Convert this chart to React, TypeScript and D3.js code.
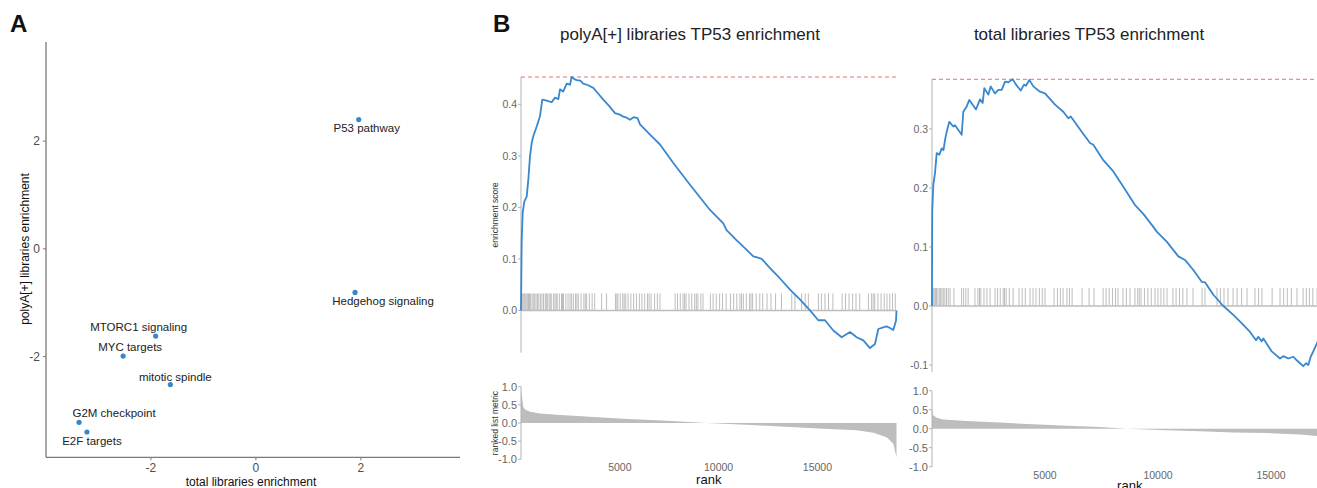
import React from 'react';
import * as d3 from 'd3';

// ---------- Panel A data ----------
const pathways = ['P53 pathway', 'Hedgehog signaling', 'MTORC1 signaling', 'MYC targets', 'mitotic spindle', 'G2M checkpoint', 'E2F targets'];
const totalEnrichment = [1.96, 1.89, -1.91, -2.53, -1.63, -3.37, -3.22];
const polyAEnrichment = [2.40, -0.81, -1.62, -1.99, -2.52, -3.22, -3.40];
const scatterTicks = [-2, 0, 2];
// label placement (layout only, px relative to point)
const labelOffsets: [number, number][] = [[8, 8], [28, 9], [-17, -9], [7, -9], [5, -8], [35, -9], [5, 9]];

// ---------- Panel B data: polyA[+] ----------
const esRanks1 = [0, 35, 86, 167, 288, 369, 455, 541, 622, 794, 961, 1077, 1200, 1381, 1553, 1720, 1890, 1973, 2140, 2312, 2480, 2565, 2700, 2818, 3000, 3152, 3400, 3658, 3900, 4164, 4456, 4756, 5000, 5176, 5350, 5515, 5700, 5900, 6021, 6527, 7033, 7706, 8551, 9563, 10236, 10400, 10914, 11081, 11755, 11950, 12179, 12600, 13105, 13697, 14100, 14623, 15043, 15382, 15802, 16227, 16647, 16986, 17320, 17659, 17912, 18079, 18332, 18500, 18671, 18838, 18975, 19000];
const esValues1 = [0, 0.136, 0.19, 0.211, 0.221, 0.253, 0.299, 0.325, 0.338, 0.357, 0.377, 0.409, 0.408, 0.406, 0.404, 0.413, 0.41, 0.429, 0.425, 0.44, 0.438, 0.453, 0.449, 0.447, 0.446, 0.44, 0.437, 0.432, 0.421, 0.409, 0.397, 0.383, 0.38, 0.376, 0.374, 0.37, 0.375, 0.373, 0.361, 0.341, 0.322, 0.286, 0.244, 0.195, 0.169, 0.156, 0.136, 0.13, 0.105, 0.103, 0.1, 0.082, 0.062, 0.037, 0.022, 0.0, -0.019, -0.019, -0.039, -0.052, -0.042, -0.052, -0.058, -0.073, -0.065, -0.036, -0.033, -0.031, -0.034, -0.038, -0.02, 0];
const hits1 = [20, 60, 110, 160, 210, 260, 320, 380, 430, 490, 560, 620, 690, 760, 830, 900, 980, 1060, 1140,
  1230, 1280, 1330, 1420, 1480, 1530, 1640, 1720, 1780, 1830, 1940, 2050, 2100, 2150, 2270, 2380, 2480, 2560,
  2650, 2760, 2830, 2900, 3040, 3180, 3250, 3320, 3460, 3600, 3730,
  4080, 4330,
  4780, 4850, 4900, 5020, 5150, 5220, 5300, 5420, 5560, 5700, 5840,
  5990, 6120, 6260, 6400, 6480, 6580, 6760, 6900, 7030,
  7800, 7920, 8060, 8200, 8280, 8350, 8500, 8640, 8790, 8870, 8950, 9100, 9210,
  9580, 9720, 9880, 10050, 10200, 10380,
  10600, 10760, 10920, 11080, 11160, 11250, 11400, 11560, 11640, 11720, 11900, 12080, 12230,
  12450, 12650, 12880, 13180,
  13700, 13860,
  14200, 14380, 14540,
  15050, 15200, 15380, 15560, 15780,
  16250, 16420, 16600, 16780, 16950, 17140,
  17580, 17740, 17820, 17900, 18060, 18220, 18380, 18520, 18660, 18800, 18940];
const metricRanks1 = [0, 35, 118, 202, 455, 961, 1805, 3491, 5178, 6864, 8551, 9394, 10237, 11924, 13611, 15297, 16984, 17827, 18502, 18839, 19000];
const metricValues1 = [0.95, 0.8, 0.44, 0.37, 0.31, 0.26, 0.23, 0.17, 0.12, 0.074, 0.03, 0, -0.02, -0.065, -0.11, -0.16, -0.2, -0.27, -0.39, -0.57, -0.95];

// ---------- Panel B data: total ----------
const esRanks2 = [0, 5, 13, 58, 133, 208, 323, 429, 509, 575, 650, 766, 943, 1018, 1314, 1385, 1535, 1651, 1947, 2124, 2243, 2314, 2491, 2597, 2788, 2934, 3084, 3230, 3376, 3571, 3717, 3925, 4071, 4160, 4306, 4483, 4779, 5000, 5443, 5810, 6031, 6137, 6253, 6624, 6992, 7138, 7580, 8023, 8465, 8983, 9350, 9793, 9943, 10386, 10899, 11195, 11563, 11934, 12080, 12448, 12890, 13333, 13775, 14072, 14337, 14439, 14589, 14660, 15032, 15399, 15545, 15767, 15988, 16138, 16284, 16430, 16550, 16651, 16757, 16872, 17036, 17300, 17500];
const esValues2 = [0, 0.112, 0.163, 0.205, 0.225, 0.259, 0.256, 0.267, 0.264, 0.281, 0.295, 0.312, 0.304, 0.306, 0.29, 0.329, 0.338, 0.349, 0.333, 0.35, 0.344, 0.369, 0.358, 0.372, 0.36, 0.366, 0.366, 0.38, 0.379, 0.384, 0.375, 0.365, 0.375, 0.373, 0.383, 0.372, 0.363, 0.36, 0.341, 0.329, 0.318, 0.321, 0.315, 0.295, 0.276, 0.273, 0.247, 0.228, 0.202, 0.171, 0.156, 0.134, 0.126, 0.109, 0.084, 0.078, 0.061, 0.041, 0.04, 0.019, 0, -0.015, -0.032, -0.044, -0.058, -0.052, -0.06, -0.055, -0.077, -0.089, -0.085, -0.089, -0.086, -0.092, -0.097, -0.102, -0.097, -0.1, -0.086, -0.077, -0.063, -0.04, 0];
const hits2 = [10, 50, 100, 150, 200, 260, 320, 380, 440, 500, 570, 640, 720, 800,
  970,
  1310, 1400, 1500, 1600,
  1900, 2030, 2100, 2160, 2300, 2430,
  2570,
  2790, 2900, 3020, 3150, 3210, 3280, 3420, 3590,
  3850, 3990, 4130, 4340,
  4470, 4600, 4750, 4880, 5000,
  5400, 5550, 5680, 5800,
  5970, 6080, 6200,
  6640,
  6950, 7170,
  7570, 7700, 7840, 7990, 8120, 8230,
  8450, 8600, 8760,
  8980, 9100, 9170, 9250, 9400, 9550, 9700, 9870,
  10000, 10130, 10260, 10400,
  10660, 10800, 10950, 11100, 11280,
  11550,
  11950, 12080,
  12610, 12760, 12920, 13100, 13320,
  13500, 13700, 13940,
  14290, 14450, 14600,
  15050,
  15400, 15560, 15720, 15900, 16150,
  16420, 16560, 16700, 16850, 17040,
  17200, 17350];
const metricRanks2 = [0, 59, 206, 501, 1534, 3009, 4484, 5959, 7434, 8614, 10384, 11859, 13334, 14809, 16284, 17036, 17300, 17500];
const metricValues2 = [0.53, 0.35, 0.29, 0.24, 0.2, 0.16, 0.115, 0.08, 0.044, 0, -0.044, -0.07, -0.1, -0.115, -0.15, -0.195, -0.3, -0.6];

const rankTicks = [5000, 10000, 15000];
const metricTicks = [1, 0.5, 0, -0.5, -1];
const esTicks1 = [0, 0.1, 0.2, 0.3, 0.4];
const esTicks2 = [-0.1, 0, 0.1, 0.2, 0.3];

const FONT = '"Liberation Sans", Arial, Helvetica, sans-serif';
const BLUE = '#3987cf';
const GRAY = '#bdbdbd';
const AXIS = '#b3b3b3';
const TICKTXT = '#666';

type GseaProps = {
  title: string; titleX: number;
  nRanks: number; x0: number; x1: number;
  esDomain: [number, number]; esRange: [number, number]; esTicks: number[];
  ranks: number[]; values: number[]; hits: number[]; rugH: number;
  mRanks: number[]; mValues: number[]; mRange: [number, number];
  tickLabelY: number; rankLabelY: number;
  showYTitles: boolean;
};

function Gsea(p: GseaProps) {
  const x = d3.scaleLinear().domain([0, p.nRanks]).range([p.x0, p.x1]);
  const y = d3.scaleLinear().domain(p.esDomain).range(p.esRange);
  const ym = d3.scaleLinear().domain([-1, 1]).range(p.mRange);
  const pts = p.ranks.map((r, i) => [r, p.values[i]] as [number, number]);
  const line = d3.line<[number, number]>().x(d => x(d[0])).y(d => y(d[1]))(pts) || '';
  const mpts = p.mRanks.map((r, i) => [r, p.mValues[i]] as [number, number]);
  const area = d3.area<[number, number]>().x(d => x(d[0])).y0(ym(0)).y1(d => ym(d[1]))(mpts) || '';
  const maxEs = d3.max(p.values) as number;
  const y0 = y(0);
  const esMid = (p.esRange[0] + p.esRange[1]) / 2;
  return (
    <g fontFamily={FONT}>
      <text x={p.titleX} y={40} textAnchor="middle" fontSize={17} fill="#222">{p.title}</text>
      {/* ES axis */}
      <line x1={p.x0} x2={p.x0} y1={p.esRange[1]} y2={p.esRange[0]} stroke={AXIS} strokeWidth={1} />
      {p.esTicks.map(t => (
        <g key={t}>
          <line x1={p.x0 - 3} x2={p.x0} y1={y(t)} y2={y(t)} stroke={AXIS} />
          <text x={p.x0 - 4} y={y(t)} dy="0.35em" textAnchor="end" fontSize={10.5} fill={TICKTXT}>{t.toFixed(1)}</text>
        </g>
      ))}
      {/* max dashed */}
      <line x1={p.x0} x2={p.x1} y1={y(maxEs)} y2={y(maxEs)} stroke="#e57373" strokeDasharray="4,3" strokeWidth={1} />
      {/* hits */}
      {p.hits.map((h, i) => (
        <line key={i} x1={x(h)} x2={x(h)} y1={y0} y2={y0 - p.rugH} stroke={GRAY} strokeWidth={1} />
      ))}
      <line x1={p.x0} x2={p.x1} y1={y0} y2={y0} stroke={GRAY} strokeWidth={1.5} />
      <path d={line} fill="none" stroke={BLUE} strokeWidth={1.8} strokeLinejoin="round" />
      {p.showYTitles && (
        <text transform={`translate(${p.x0 - 23},${esMid}) rotate(-90)`} textAnchor="middle" fontSize={8.5} fill="#333">enrichment score</text>
      )}
      {/* metric */}
      <path d={area} fill={GRAY} stroke="none" />
      <line x1={p.x0} x2={p.x0} y1={p.mRange[1]} y2={p.mRange[0]} stroke={AXIS} strokeWidth={1} />
      {metricTicks.map(t => (
        <g key={t}>
          <line x1={p.x0 - 3} x2={p.x0} y1={ym(t)} y2={ym(t)} stroke={AXIS} />
          <text x={p.x0 - 4} y={ym(t)} dy="0.35em" textAnchor="end" fontSize={11} fill={TICKTXT}>{t.toFixed(1)}</text>
        </g>
      ))}
      {p.showYTitles && (
        <text transform={`translate(${p.x0 - 23},${(p.mRange[0] + p.mRange[1]) / 2}) rotate(-90)`} textAnchor="middle" fontSize={8.5} fill="#333">ranked list metric</text>
      )}
      {rankTicks.map(t => (
        <text key={t} x={x(t)} y={p.tickLabelY} dy="0.35em" textAnchor="middle" fontSize={10.5} fill={TICKTXT}>{t}</text>
      ))}
      <text x={(p.x0 + p.x1) / 2} y={p.rankLabelY} dy="0.35em" textAnchor="middle" fontSize={13} fill="#111">rank</text>
    </g>
  );
}

export default function App() {
  const xs = d3.scaleLinear().domain([-4.0, 3.89]).range([46, 460]);
  const ys = d3.scaleLinear().domain([-3.87, 3.84]).range([457.3, 42]);
  return (
    <svg width={1317} height={488} style={{ position: 'absolute', left: 0, top: 0, background: '#fff' }}>
      <rect x={0} y={0} width={1317} height={488} fill="#fff" />
      <g fontFamily={FONT}>
        <text x={10} y={32} fontSize={24} fontWeight="bold" fill="#111">A</text>
        <text x={493} y={32} fontSize={24} fontWeight="bold" fill="#111">B</text>
        {/* Panel A axes */}
        <line x1={46} x2={46} y1={42} y2={457.3} stroke="#7a7a7a" strokeWidth={1.3} />
        <line x1={46} x2={460} y1={457.3} y2={457.3} stroke="#7a7a7a" strokeWidth={1.3} />
        {scatterTicks.map(t => (
          <g key={'y' + t}>
            <line x1={43} x2={46} y1={ys(t)} y2={ys(t)} stroke="#7a7a7a" />
            <text x={40} y={ys(t)} dy="0.35em" textAnchor="end" fontSize={12} fill="#4d4d4d">{t}</text>
          </g>
        ))}
        {scatterTicks.map(t => (
          <g key={'x' + t}>
            <line x1={xs(t)} x2={xs(t)} y1={457.3} y2={460.3} stroke="#7a7a7a" />
            <text x={xs(t)} y={468} dy="0.35em" textAnchor="middle" fontSize={12} fill="#4d4d4d">{t}</text>
          </g>
        ))}
        <text x={251} y={482} dy="0.35em" textAnchor="middle" fontSize={12} fill="#111">total libraries enrichment</text>
        <text transform={`translate(25,249) rotate(-90)`} dy="0.35em" textAnchor="middle" fontSize={12} fill="#111">polyA[+] libraries enrichment</text>
        {pathways.map((name, i) => {
          const px = xs(totalEnrichment[i]);
          const py = ys(polyAEnrichment[i]);
          return (
            <g key={name}>
              <circle cx={px} cy={py} r={2.6} fill="#3b86c8" />
              <text x={px + labelOffsets[i][0]} y={py + labelOffsets[i][1]} dy="0.35em" textAnchor="middle" fontSize={11.5} fill="#222">{name}</text>
            </g>
          );
        })}
      </g>
      <Gsea title="polyA[+] libraries TP53 enrichment" titleX={690} nRanks={19000} x0={521} x1={896.5}
        esDomain={[-0.082, 0.453]} esRange={[352.7, 77]} esTicks={esTicks1}
        ranks={esRanks1} values={esValues1} hits={hits1} rugH={17}
        mRanks={metricRanks1} mValues={metricValues1} mRange={[459.3, 386.7]}
        tickLabelY={467.5} rankLabelY={479.5} showYTitles={true} />
      <Gsea title="total libraries TP53 enrichment" titleX={1089} nRanks={17500} x0={932} x1={1327.5}
        esDomain={[-0.112, 0.384]} esRange={[372.1, 79.3]} esTicks={esTicks2}
        ranks={esRanks2} values={esValues2} hits={hits2} rugH={18}
        mRanks={metricRanks2} mValues={metricValues2} mRange={[466.7, 390.7]}
        tickLabelY={475.5} rankLabelY={485.5} showYTitles={false} />
    </svg>
  );
}
